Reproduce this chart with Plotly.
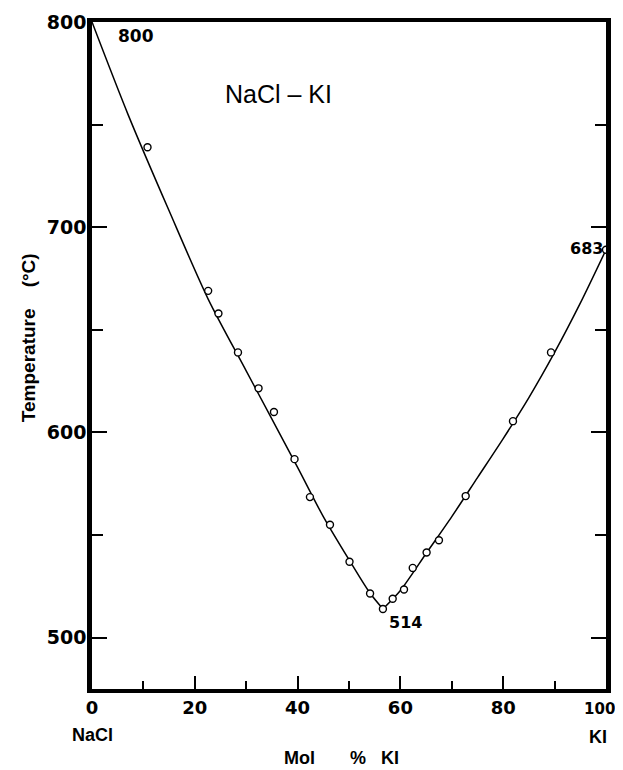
import plotly.graph_objects as go

# Experimental liquidus points (mol % KI, temperature in deg C)
exp_x = [10.8, 22.6, 24.6, 28.4, 32.4, 35.4, 39.4, 42.4, 46.3, 50.1, 54.1, 56.6,
         58.5, 60.7, 62.4, 65.1, 67.5, 72.7, 81.9, 89.3, 100]
exp_T = [739, 669, 658, 639, 621.5, 610, 587, 568.5, 555, 537, 521.5, 514,
         519, 523.5, 534, 541.5, 547.5, 569, 605.5, 639, 689]

# Drawn liquidus curve, NaCl side and KI side
left_x = [0, 7, 15, 22.6, 30, 40, 45, 50, 54, 56.6]
left_T = [800, 755, 708, 665, 630, 583, 559, 538, 522, 514]
right_x = [56.6, 60, 65, 70, 75, 80, 85, 90, 95, 100]
right_T = [514, 523, 541, 559, 578, 597, 617, 639, 663, 689]

x_ticks = [0, 20, 40, 60, 80, 100]
x_ticktext = ["0", "20", "40", "60", "80",
              "<span style='font-size:15px'>100</span>\u00a0\u00a0"]
y_ticks = [500, 600, 700, 800]

NUM_FONT = "DejaVu Sans"
TXT_FONT = "Liberation Sans"

fig = go.Figure()
for bx, by in ((left_x, left_T), (right_x, right_T)):
    fig.add_trace(go.Scatter(x=bx, y=by, mode="lines",
                             line=dict(color="black", width=1.5, shape="spline", smoothing=0.8),
                             hoverinfo="skip", showlegend=False, cliponaxis=False))
fig.add_trace(go.Scatter(x=exp_x, y=exp_T, mode="markers",
                         marker=dict(symbol="circle", size=7, color="white",
                                     line=dict(color="black", width=1.4)),
                         showlegend=False, cliponaxis=False))

fig.update_layout(
    width=623, height=770,
    margin=dict(l=84, r=25, t=14, b=89, autoexpand=False),
    paper_bgcolor="white", plot_bgcolor="white",
    showlegend=False,
)
fig.update_xaxes(
    range=[0, 100], tickvals=x_ticks, ticktext=x_ticktext,
    showgrid=False, zeroline=False, automargin=False,
    showline=True, linecolor="black", linewidth=3.5, mirror=True,
    ticks="inside", ticklen=13, tickwidth=2, tickcolor="black",
    minor=dict(tickvals=[10, 30, 50, 70, 90], ticks="inside", ticklen=8,
               tickwidth=1.5, tickcolor="black", showgrid=False),
    tickfont=dict(family=NUM_FONT, size=18, color="black", weight="bold"),
    ticklabeloverflow="allow",
)
fig.update_yaxes(
    range=[475, 800], tickvals=y_ticks, ticktext=[str(v) for v in y_ticks],
    showgrid=False, zeroline=False, automargin=False,
    showline=True, linecolor="black", linewidth=4.5, mirror="allticks",
    ticks="inside", ticklen=15, tickwidth=2, tickcolor="black",
    minor=dict(tickvals=[550, 650, 750], ticks="inside", ticklen=11,
               tickwidth=1.5, tickcolor="black", showgrid=False),
    tickfont=dict(family=NUM_FONT, size=19, color="black", weight="bold"),
    ticklabeloverflow="allow", ticklabelstandoff=-3,
)

def ann(text, x, y, size, family, weight="bold", xanchor="center", angle=0):
    fig.add_annotation(text=text, x=x, y=y, xref="paper", yref="paper",
                       xanchor=xanchor, yanchor="middle", showarrow=False,
                       textangle=angle,
                       font=dict(family=family, size=size, color="black", weight=weight))

ann("NaCl \u2013 KI", 0.362, 0.892, 25, TXT_FONT, weight="normal")
ann("800", 0.0856, 0.979, 17, NUM_FONT)
ann("683", 0.998, 0.660, 16, NUM_FONT, xanchor="right")
ann("514", 0.609, 0.099, 16, NUM_FONT)
ann("NaCl", 0.0, -0.069, 18, TXT_FONT)
ann("KI", 0.984, -0.072, 18, TXT_FONT)
ann("Mol\u00a0\u00a0\u00a0\u00a0\u00a0\u00a0 %\u00a0\u00a0 KI", 0.485, -0.103, 18, TXT_FONT)
ann("Temperature\u00a0\u00a0\u00a0 (\u00b0C)", -0.1245, 0.526, 19, TXT_FONT, angle=-90)

fig.write_html("out.html")
